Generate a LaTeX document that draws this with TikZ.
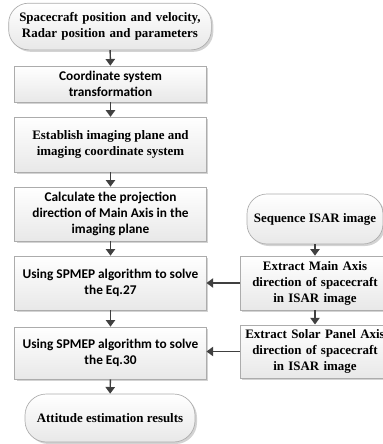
\documentclass[tikz,border=0pt]{standalone}
\usepackage{fontspec}
\setmainfont{Liberation Serif}
\newfontfamily\calfont{Carlito}
\usetikzlibrary{arrows.meta,shadows}

\begin{document}
\begin{tikzpicture}[x=0.75pt,y=-0.75pt,
	box/.style={draw=gray!65,line width=0.5pt,top color=white,bottom color=gray!18,
		drop shadow={shadow xshift=1.5pt,shadow yshift=-1.5pt,opacity=0.35,fill=gray},
		align=center,inner sep=1pt,font=\bfseries\fontsize{9.7}{12}\selectfont},
	proc/.style={box,minimum width=143.5pt},
	term/.style={box,rounded corners=15pt},
	cal/.style={font=\calfont\bfseries\fontsize{10}{12}\selectfont},
	flow/.style={draw=black!75,line width=1.1pt,-{Triangle[length=5pt,width=7pt]}}]
	\useasboundingbox (0,0) rectangle (383,444);
	\clip (0,0) rectangle (383,444);
	% left column
	\node[term,minimum width=145pt,minimum height=35pt,text width=150pt] (input) at (110,26.5) {Spacecraft position and velocity,\\Radar position and parameters};
	\node[proc,cal,minimum height=27pt] (trans) at (110.5,84) {Coordinate system\\transformation};
	\node[proc,minimum height=41pt] (plane) at (110.5,144.5) {Establish imaging plane and\\imaging coordinate system};
	\node[proc,cal,minimum height=40.5pt] (proj) at (110.5,214) {Calculate the projection\\direction of Main Axis in the\\imaging plane};
	\node[proc,cal,minimum height=40.5pt] (eqa) at (110.5,283) {Using SPMEP algorithm to solve\\the Eq.27};
	\node[proc,cal,minimum height=39pt] (eqb) at (110.5,353) {Using SPMEP algorithm to solve\\the Eq.30};
	\node[term,minimum width=127.5pt,minimum height=36pt,rounded corners=16pt] (result) at (110,418) {Attitude estimation results};
	% right column
	\node[term,minimum width=102pt,minimum height=37.5pt] (isar) at (315,219) {Sequence ISAR image};
	\node[box,minimum width=109.5pt,minimum height=40.5pt,text width=110pt] (mainax) at (315,283) {Extract Main Axis\\direction of spacecraft\\in ISAR image};
	\node[box,minimum width=109.5pt,minimum height=40pt,text width=110pt] (panel) at (315,351.5) {Extract Solar Panel Axis\\direction of spacecraft\\in ISAR image};
	% arrows
	\draw[flow] (input) -- (trans);
	\draw[flow] (trans) -- (plane);
	\draw[flow] (plane) -- (proj);
	\draw[flow] (proj) -- (eqa);
	\draw[flow] (eqa) -- (eqb);
	\draw[flow] (eqb) -- (result);
	\draw[flow] (isar) -- (mainax);
	\draw[flow] (mainax) -- (panel);
	\draw[flow] (mainax) -- (eqa);
	\draw[flow] (panel.west) -- (panel.west -| eqb.east);
\end{tikzpicture}
\end{document}
